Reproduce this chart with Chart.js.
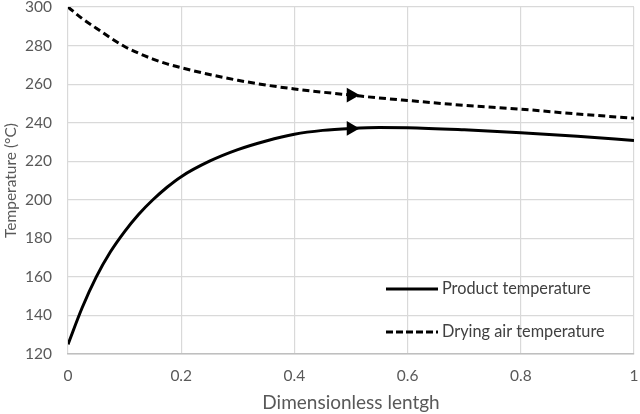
<!DOCTYPE html>
<html>
<head>
<meta charset="utf-8">
<script src="https://cdn.jsdelivr.net/npm/chart.js@4"></script>
<style>
  html, body { margin: 0; padding: 0; background: #fff; }
  #wrap { width: 640px; height: 414px; position: relative; }
</style>
</head>
<body>
<div id="wrap"><canvas id="chart"></canvas></div>
<script>
// Data
const lengths = [0, 0.025, 0.05, 0.075, 0.1, 0.125, 0.15, 0.175, 0.2, 0.25, 0.3, 0.35, 0.4, 0.45, 0.5, 0.55, 0.6, 0.7, 0.8, 0.9, 1];
const productTemp = [125, 144, 160, 173, 183.5, 192.5, 200, 206.5, 212, 220, 226, 230.5, 234, 236, 237, 237.5, 237.4, 236.3, 234.8, 233, 230.7];
const airTemp = [300, 294, 289, 284, 279.5, 276, 273, 270.5, 268.5, 265, 262, 259.5, 257.5, 255.8, 254.3, 252.8, 251.5, 249, 247, 244.5, 242.3];
const xTicks = [0, 0.2, 0.4, 0.6, 0.8, 1];
const yTicks = [120, 140, 160, 180, 200, 220, 240, 260, 280, 300];
const arrowAt = 0.5;

const FONT = "Lato, 'Open Sans', sans-serif";
const TEXT = "#595959";

//Helper Functions
const toPoints = (values) => lengths.map((x, i) => ({ x: x, y: values[i] }));
const arrowRadius = (ctx) => (ctx.raw && ctx.raw.x === arrowAt ? 5.5 : 0);

// Legend drawn inside the plot area, lower right
const insideLegend = {
  id: "insideLegend",
  afterDraw(chart) {
    const c = chart.ctx;
    const items = [
      { text: "Product temperature", dash: [], y: 289 },
      { text: "Drying air temperature", dash: [7, 3], y: 332 },
    ];
    c.save();
    items.forEach((item) => {
      c.strokeStyle = "#000";
      c.lineWidth = 3;
      c.setLineDash(item.dash);
      c.beginPath();
      c.moveTo(386, item.y);
      c.lineTo(438, item.y);
      c.stroke();
      c.setLineDash([]);
      c.fillStyle = "#404040";
      c.font = "16.3px " + FONT;
      c.textBaseline = "middle";
      c.textAlign = "left";
      c.fillText(item.text, 442, item.y);
    });
    c.restore();
  },
};

const canvas = document.getElementById("chart");
const data = {
  datasets: [
    {
      label: "Product temperature",
      data: toPoints(productTemp),
      borderColor: "#000",
      backgroundColor: "#000",
      borderWidth: 3,
      cubicInterpolationMode: "monotone",
      pointStyle: "triangle",
      rotation: 90,
      pointRadius: arrowRadius,
      pointHoverRadius: arrowRadius,
    },
    {
      label: "Drying air temperature",
      data: toPoints(airTemp),
      borderColor: "#000",
      backgroundColor: "#000",
      borderWidth: 3,
      borderDash: [7, 4],
      cubicInterpolationMode: "monotone",
      pointStyle: "triangle",
      rotation: 90,
      pointRadius: arrowRadius,
      pointHoverRadius: arrowRadius,
    },
  ],
};

const chartSettings = {
  responsive: true,
  maintainAspectRatio: false,
  animation: false,
  layout: { padding: { top: 7, right: 6, left: 0, bottom: 0 } },
  plugins: {
    legend: { display: false },
    tooltip: { enabled: false },
  },
  scales: {
    x: {
      type: "linear",
      min: 0,
      max: 1,
      afterBuildTicks: (axis) => { axis.ticks = xTicks.map((v) => ({ value: v })); },
      afterFit: (axis) => {
        axis.height = 60;
        axis.paddingLeft = 0;
        axis.paddingRight = 0;
      },
      grid: { color: "#d9d9d9", lineWidth: 1.2, drawTicks: false },
      border: { color: "#bfbfbf", width: 1.5 },
      ticks: {
        padding: 13,
        color: TEXT,
        font: { family: FONT, size: 15.5 },
        maxRotation: 0,
        callback: (v) => String(v),
      },
      title: {
        display: true,
        text: "Dimensionless lentgh",
        color: TEXT,
        font: { family: FONT, size: 19 },
        padding: { top: 0, bottom: 0 },
      },
    },
    y: {
      min: 120,
      max: 300,
      afterBuildTicks: (axis) => { axis.ticks = yTicks.map((v) => ({ value: v })); },
      afterFit: (axis) => {
        axis.width = 68;
        axis.paddingTop = 0;
        axis.paddingBottom = 0;
      },
      grid: { color: "#d9d9d9", lineWidth: 1.2, drawTicks: false },
      border: { display: false },
      ticks: {
        padding: 16,
        color: TEXT,
        font: { family: FONT, size: 15.5 },
      },
      title: {
        display: true,
        text: "Temperature (°C)",
        color: TEXT,
        font: { family: FONT, size: 15.5 },
        padding: { top: 2, bottom: 0 },
      },
    },
  },
};

new Chart(canvas, {
  type: "line",
  data: data,
  options: chartSettings,
  plugins: [insideLegend],
});
</script>
</body>
</html>
